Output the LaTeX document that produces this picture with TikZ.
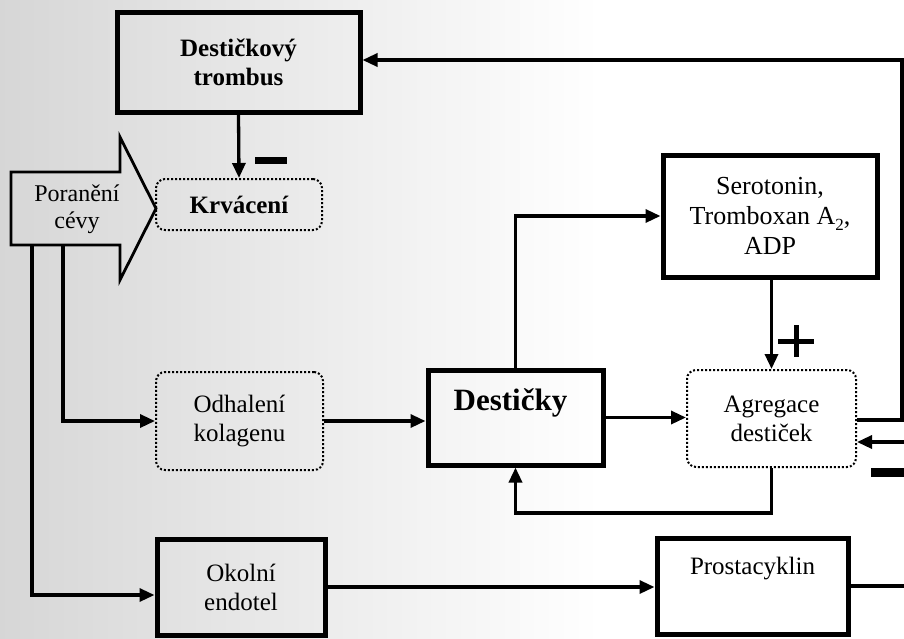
\documentclass[tikz,border=0pt]{standalone}
\usepackage{fontspec}
\setmainfont{Liberation Serif}
\usetikzlibrary{arrows.meta}
\newcommand{\subtwo}{\raisebox{-0.22em}{\fontsize{17}{17}\selectfont 2}}
\begin{document}
\begin{tikzpicture}[x=1pt,y=-1pt,
  conn/.style={line width=3.3pt},
  tip/.style={-{Triangle[length=15pt,width=13pt]}},
  solidbox/.style={draw,line width=5pt,inner sep=0pt,align=center,font=\fontsize{25}{29}\selectfont},
  dotbox/.style={draw,dotted,line width=2pt,rounded corners=9pt,inner sep=0pt,align=center,font=\fontsize{25}{29}\selectfont},
  boldtxt/.style={font=\fontsize{25}{29}\selectfont\bfseries},
  sign/.style={line width=5pt}]
% page area and the grey cast of the scan
\useasboundingbox (0,0) rectangle (904,638);
\clip (0,0) rectangle (904,638);
\fill[white] (0,0) rectangle (904,638);
\shade[left color=black!16,right color=white] (0,0) rectangle (600,638);

% boxes
\node[solidbox,boldtxt,minimum width=243pt,minimum height=100pt] (trombus) at (238.5,62) {Destičkový\\trombus};
\node[dotbox,boldtxt,minimum width=166pt,minimum height=51pt] (krvaceni) at (239,204.5) {Krvácení};
\node[dotbox,minimum width=167pt,minimum height=98pt] (odhaleni) at (239.5,421) {Odhalení\\kolagenu};
\node[solidbox,font=\fontsize{31}{34}\selectfont\bfseries,text depth=35pt,minimum width=175pt,minimum height=95pt] (desticky) at (515.5,417.5) {Destičky\hspace*{10pt}};
\node[solidbox,font=\fontsize{26}{30}\selectfont,minimum width=214pt,minimum height=122pt] (serotonin) at (770,216) {Serotonin,\\Tromboxan A\subtwo,\\ADP};
\node[dotbox,minimum width=169pt,minimum height=97pt] (agregace) at (771.5,418.5) {Agregace\\destiček};
\node[solidbox,minimum width=168pt,minimum height=96pt] (okolni) at (241,587) {Okolní\\endotel};
\node[solidbox,text depth=40pt,minimum width=191pt,minimum height=96pt] (prosta) at (752.5,586) {Prostacyklin};

% block arrow for the injury
\draw[line width=2.8pt,line join=miter] (11,172) -- (120,172) -- (120,137) -- (156,208.5) -- (120,280) -- (120,245) -- (11,245) -- cycle;
\node[align=center,font=\fontsize{24}{27}\selectfont] (poraneni) at (77,209) {Poranění\\cévy};

% free ends of the connectors
\coordinate (pa) at (63,245);
\coordinate (pb) at (32,245);
\coordinate (rt) at (902,60);
\coordinate (lowy) at (0,513);
\coordinate (farx) at (940,0);

% connectors
\draw[conn,tip] (trombus.south) -- (krvaceni.north);
\draw[conn,tip] (pa) |- (odhaleni.west);
\draw[conn,tip] (pb) |- ([yshift=-8pt]okolni.west);
\draw[conn,tip] (odhaleni.east) -- (odhaleni.east -| desticky.west);
\draw[conn,tip] (desticky.east) -- (desticky.east -| agregace.west);
\draw[conn,tip] (desticky.north) |- (serotonin.west);
\draw[conn,tip] (serotonin.south -| agregace.north) -- (agregace.north);
\draw[conn,tip] ([yshift=-1.5pt]agregace.east) -| (rt) -- (rt -| trombus.east);
\draw[conn,tip] (agregace.south) |- (desticky.south |- lowy) -- (desticky.south);
\draw[conn,tip] (okolni.east) -- (okolni.east -| prosta.west);
\draw[conn,tip] (prosta.east) -- (prosta.east -| farx) |- ([yshift=-23.5pt]agregace.east);

% inhibition and activation signs
\fill (255,157) rectangle (287,164);
\draw[sign] (778,341) -- (814,341) (796,325) -- (796,357);
\fill (871,468) rectangle (910,477);
\end{tikzpicture}
\end{document}
